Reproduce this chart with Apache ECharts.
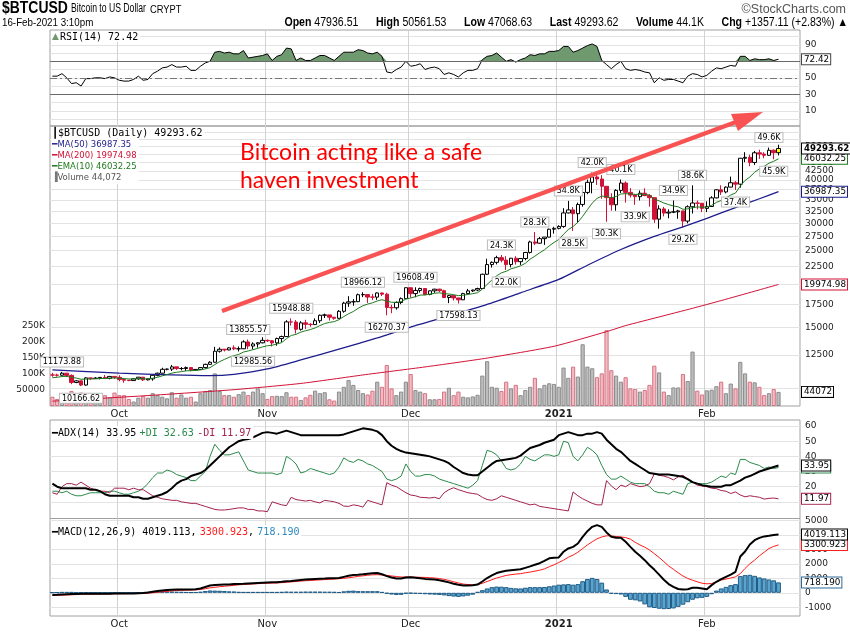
<!DOCTYPE html>
<html>
<head>
<meta charset="utf-8">
<title>$BTCUSD daily</title>
<script src="https://cdn.jsdelivr.net/npm/echarts@6/dist/echarts.min.js"></script>
<style>
  html, body { margin: 0; padding: 0; background: #fff; }
  #chart { width: 850px; height: 633px; }
</style>
</head>
<body>
<div id="chart"></div>
<script>
// ---- data (daily, 17-Sep-2020 .. 16-Feb-2021) ----
const firstDay = '2020-09-17';
const padDays = 4; // empty slots after the last bar

const opens = [10950,10940,10930,11080,10920,10420,10530,10240,10740,10690,10725,10775,10710,10845,
  10780,10620,10575,10550,10670,10790,10600,10670,10925,11080,11370,11385,11555,11425,11430,11500,11320,11360,11500,11750,11915,12820,12990,12930,13110,13030,13030,13640,13270,13455,13560,
  13780,13740,13550,13950,14130,15580,15565,14830,15480,15330,15300,15700,16280,16320,16070,15955,16715,17645,17800,17820,18660,18680,18370,18365,18880,18730,17150,17110,17720,18180,
  19550,18800,19200,19445,18700,19150,19360,19165,18320,18550,18265,18040,18800,19140,19250,19440,21380,22800,23140,23870,23480,22800,23780,23240,23730,24710,26490,26280,27080,27360,28840,
  29000,29370,32130,32780,31970,33990,36820,39370,40800,40250,38350,35570,33920,37320,39190,36830,36180,35790,36630,36070,35550,30830,33000,32100,32290,32370,32570,30430,33470,34320,34270,
  33110,33540,35510,37470,36930,38140,39270,38900,46200,46480,44920,47910,47500,47110,48720,47936.51];
const highs = [11100,11040,11174,11090,10990,10580,10540,10780,10760,10790,10800,10950,10860,10850,
  10930,10650,10600,10700,10800,10800,10690,10950,11120,11490,11430,11700,11560,11540,11580,11520,11390,11490,11800,12000,13200,13150,13020,13160,13330,13230,13790,13856,13600,13620,14060,
  13860,13800,14030,14220,15750,15949,15770,15650,15800,15450,15950,16350,16460,16320,16080,16850,17800,18480,18120,18800,18966,18690,18760,18950,18930,18900,17450,17850,18330,19580,
  19550,19608,19560,19500,19180,19410,19420,19290,18640,18560,18270,18900,19390,19300,19550,21450,23700,23280,24170,24300,24100,23820,24100,23780,24780,26720,28300,27390,27370,28940,29300,
  29600,33150,34800,33400,34400,36900,40100,42000,41400,41300,38350,36600,37600,40100,39600,37900,36400,37300,37850,36400,35550,33800,33450,32900,34900,32800,32580,33800,38600,34880,34300,
  34700,35900,37600,38600,38300,40900,39700,46300,48100,47300,48500,48900,48100,49600,49000,50561.53];
const lows = [10820,10830,10900,10800,10300,10370,10167,10200,10600,10660,10630,10690,10640,10670,
  10500,10400,10510,10530,10610,10520,10560,10540,10850,11070,11290,11240,11320,11290,11250,11220,11300,11340,11420,11700,11900,12700,12800,12900,12910,12800,13000,13000,12986,13130,13510,
  13630,13240,13300,13620,14100,15200,14420,14700,14850,15080,15280,15470,15990,15720,15800,15880,16560,17220,17350,17760,18370,17670,18010,18040,18500,16270,16500,16900,17520,18180,
  18300,18350,18930,18600,18590,18900,19000,18240,17650,17950,17598,18020,18760,19000,19100,19420,21280,22350,22820,23150,22000,22380,22800,22750,23460,24530,25950,26210,25990,27300,28000,
  28800,29100,32050,28500,30200,33500,36400,36600,38700,35300,30300,32600,32600,36700,34400,35600,33900,34900,35900,33500,30070,28950,31400,31000,32100,30900,29200,30000,32000,32900,32300,
  32300,33420,35400,36200,36600,38100,37400,38000,45000,43800,44200,46000,46200,47000,45900,47068.63];
const closes = [10940,10930,11080,10920,10420,10530,10240,10740,10690,10725,10775,10710,10845,10780,
  10620,10575,10550,10670,10790,10600,10670,10925,11080,11370,11385,11555,11425,11430,11500,11320,11360,11500,11750,11915,12820,12990,12930,13110,13030,13030,13640,13270,13455,13560,13780,
  13740,13550,13950,14130,15580,15565,14830,15480,15330,15300,15700,16280,16320,16070,15955,16715,17645,17800,17820,18660,18680,18370,18365,18880,18730,17150,17110,17720,18180,19550,
  18800,19200,19445,18700,19150,19360,19165,18320,18550,18265,18040,18800,19140,19250,19440,21380,22800,23140,23870,23480,22800,23780,23240,23730,24710,26490,26280,27080,27360,28840,29000,
  29370,32130,32780,31970,33990,36820,39370,40800,40250,38350,35570,33920,37320,39190,36830,36180,35790,36630,36070,35550,30830,33000,32100,32290,32370,32570,30430,33470,34320,34270,33110,
  33540,35510,37470,36930,38140,39270,38900,46200,46480,44920,47910,47500,47110,48720,47940,49293.62];
const volumes = [29000,22000,25000,40000,47000,30000,42000,25000,22000,24000,35000,34000,28000,42000,
  34000,34000,22000,14000,26000,31000,26000,40000,34000,29000,24000,43000,26000,36000,26000,29000,14000,40000,47000,50000,102000,47000,34000,34000,29000,37000,45000,34000,45000,55000,40000,
  22000,31000,32000,31000,43000,29000,29000,19000,27000,35000,48000,40000,43000,21000,17000,45000,60000,81000,66000,50000,40000,36000,48000,76000,60000,128000,55000,34000,45000,76000,
  100000,50000,45000,40000,21000,21000,22000,45000,57000,34000,45000,29000,27000,30000,35000,95000,140000,60000,57000,47000,76000,55000,66000,34000,50000,60000,88000,55000,66000,71000,69000,
  60000,120000,88000,123000,92000,193000,123000,118000,90000,102000,237000,112000,95000,76000,90000,55000,53000,45000,50000,66000,126000,105000,45000,34000,58000,58000,100000,78000,170000,48000,36000,
  49000,51000,62000,76000,40000,70000,55000,138000,102000,76000,74000,60000,34000,40000,53000,44072];

const ema10 = [10750,10783,10837,10852,10773,10729,10640,10658,10664,10675,10693,10696,10723,10733,
  10712,10687,10662,10663,10686,10670,10670,10716,10782,10889,10979,11084,11146,11198,11253,11265,11282,11322,11400,11494,11735,11963,12139,12316,12446,12552,12750,12845,12956,13066,13196,
  13295,13341,13452,13575,13940,14235,14343,14550,14692,14803,14966,15205,15408,15528,15606,15808,16142,16443,16693,17051,17347,17533,17684,17901,18052,17888,17747,17742,17822,18136,
  18257,18428,18613,18629,18724,18840,18899,18794,18750,18662,18549,18595,18694,18795,18912,19361,19986,20559,21161,21583,21804,22163,22359,22608,22990,23626,24109,24649,25142,25814,26393,
  26934,27879,28770,29352,30195,31399,32848,34294,35377,35918,35855,35503,35833,36443,36513,36452,36332,36386,36329,36187,35213,34811,34318,33949,33662,33463,32912,33013,33251,33436,33377,
  33407,33789,34458,34907,35495,36181,36675,38407,39875,40792,42086,43070,43804,44698,45287,46032.25];
// moving averages read at a few dates along the smooth curves
const ma50Points = [['2020-09-17',11320],['2020-10-01',11080],['2020-10-12',10950],['2020-10-20',10900],['2020-10-25',11000],
  ['2020-11-01',11400],['2020-11-08',12100],['2020-11-16',13000],['2020-11-24',14000],['2020-12-01',15050],['2020-12-09',16200],
  ['2020-12-17',17500],['2020-12-24',18900],['2021-01-01',20650],['2021-01-07',22700],['2021-01-14',25200],['2021-01-21',27500],
  ['2021-01-27',29300],['2021-02-01',31000],['2021-02-07',33300],['2021-02-12',35300],['2021-02-16',36987.35]];
const ma200Points = [['2020-09-17',9200],['2020-10-07',9550],['2020-10-25',9930],['2020-11-08',10350],['2020-11-21',10950],
  ['2020-12-04',11550],['2020-12-17',12250],['2020-12-31',13250],['2021-01-11',14600],['2021-01-15',15200],['2021-01-22',16100],
  ['2021-01-29',17050],['2021-02-04',17950],['2021-02-11',19100],['2021-02-16',19974.98]];

const rsi = [52,52,55,50,43,44,40,49,49,50,50,49,51,50,
  47,46,46,48,52,47,48,55,58,62,63,66,63,63,64,59,59,64,68,70,81,82,80,81,79,79,83,74,75,76,77,
  79,71,76,78,86,85,71,74,71,71,74,77,77,74,71,76,81,81,81,84,83,80,79,81,76,57,56,60,63,70,
  64,65,67,60,62,63,61,54,56,54,51,56,59,59,61,72,76,77,80,75,70,72,69,72,74,78,77,79,79,82,82,
  83,88,88,81,83,86,89,91,88,71,66,61,66,70,61,59,60,59,57,56,44,50,47,48,48,46,44,52,55,54,51,
  53,58,62,61,63,65,64,76,76,71,73,72,72,73,71,72.42];
const plusDI = [17,17,16,17,15,14,14,15,16,16,16,16,17,17,
  16,15,15,16,17,19,22,26,29,29,31,30,28,27,26,24,24,27,30,40,48,44,41,41,42,43,37,31,30,29,29,
  29,29,28,29,40,38,35,29,30,32,31,30,29,28,29,33,39,37,36,38,37,35,34,32,30,25,24,25,27,35,
  30,27,27,28,28,27,25,24,23,22,21,20,19,21,24,34,44,43,41,37,32,31,32,35,40,38,37,39,41,41,40,
  41,50,49,40,37,41,46,44,41,34,28,25,25,27,25,23,22,22,22,20,17,16,16,15,17,16,15,22,23,22,22,
  22,23,25,27,26,29,28,38,38,36,35,34,32,33,32,32.63];
const minusDI = [16,15,20,22,22,21,23,21,19,18,17,17,16,19,
  19,19,18,19,18,18,16,14,13,12,11.5,11,11,10,9.5,9,9,8,7,6,5,4.6,4.6,5,5.5,6,6,5,5,4,4,
  3.5,10,9,8,7.5,13,11.5,11,10.5,11,10,9.3,11,10.5,10,9,7.2,7,8,7.5,6.5,11,10,9,8,22.6,21,20,18,16,
  14.5,14,13,12.8,12.5,13,12,16,18,19.3,18,17,16,15.5,15,13,11.5,11,12,14,13,12,11,10,9,8,8.5,7,6.5,6,5.5,
  5,4.5,4,16.5,14,12,10.5,9,8,8,24,20.5,18,21,20,22,21,20,20.5,22,28.5,27.5,27,26,24.5,26.5,27.5,25,23,21,20.5,
  20,19,18.7,17.5,17,15.5,16.5,14.5,13.3,14,13.5,13,11.8,12.3,12.5,11.97];
const adx = [22,20,19,19,19,19,19,19,18,18,17,15,14,14,
  14,14,14,13,13,12,12,13,14,15,16.5,19,22,24,25,27,28,29,31,34,37,40,43,46,48,50,51,51.5,52.5,54,55.5,
  56,55.5,55,56,57,56,55,54,54,54,54,54,54,54,54,54,54.5,55.5,56.5,57.5,58.5,58,57.5,56.5,54,50,47,45,43.5,42.5,
  42,41.5,41,40.5,40,39,38,37,35.5,33,31,29,28,27.5,27.5,30,32.5,35,37,37.5,38,38.5,39,40.5,43,45.5,46.5,47.5,49,50,51,
  54,55,56,55,54,54,55,55,56,55,51,48,45,43,40,37,35,33,31,29,28.5,28,28,28,27.5,27,26.5,25,23,22,21,
  20.5,20,20,20,21,21,22.5,24,26,27,28.5,30,31,32,33,33.95];
const macd = [-160,-140,-110,-100,-90,-80,-70,-70,-70,-70,-70,-60,-60,-50,
  -50,-50,-40,-40,-30,-20,20,70,120,160,190,210,230,230,230,230,240,300,400,500,530,560,570,580,600,610,620,640,660,680,700,
  710,720,730,760,800,820,850,880,910,930,950,970,980,1000,1010,1020,1100,1180,1230,1250,1280,1320,1350,1360,1280,1150,1050,990,980,1060,
  1070,1040,1000,960,940,910,870,800,720,630,560,510,500,520,570,780,1020,1200,1360,1450,1520,1560,1590,1620,1720,1820,1930,2040,2200,2380,2420,
  2440,2830,3060,3170,3400,3860,4250,4550,4670,4550,4160,3860,3790,3790,3520,3170,2830,2550,2250,1900,1600,1250,900,600,410,260,230,240,345,345,300,
  250,530,760,940,1100,1260,1450,2500,2850,3330,3630,3790,3890,3930,3980,4019.113];
const macdSignal = [-180,-170,-160,-150,-140,-120,-110,-100,-95,-90,-85,-80,-75,-70,
  -65,-60,-55,-50,-50,-50,-30,0,40,70,100,130,160,170,185,195,200,230,280,340,380,420,450,480,510,550,570,590,610,630,650,
  660,670,680,700,720,750,780,810,830,850,870,890,910,930,950,975,1000,1040,1080,1135,1170,1210,1240,1250,1230,1200,1160,1120,1090,1090,
  1090,1080,1070,1060,1040,1020,980,930,850,760,680,600,570,560,570,650,780,900,1020,1110,1200,1250,1290,1320,1380,1430,1490,1560,1650,1800,1930,
  2090,2250,2450,2600,2800,3050,3300,3520,3720,3850,3930,3930,3880,3850,3810,3700,3480,3300,3150,2950,2700,2440,2150,1850,1620,1380,1160,990,870,760,660,
  620,640,760,880,950,1020,1100,1320,1680,2000,2250,2550,2800,3050,3200,3300.923];
const macdHist = [20,30,50,50,50,40,40,30,25,20,15,20,15,20,
  15,10,15,10,20,30,50,70,80,90,90,80,70,60,45,35,40,70,120,160,150,140,120,100,90,60,50,50,50,50,50,
  50,50,50,60,80,70,70,70,80,80,80,80,70,70,60,45,100,140,150,115,110,110,110,110,50,-60,-120,-150,-140,-60,
  -50,-70,-80,-100,-120,-130,-150,-180,-230,-260,-280,-250,-200,-130,60,180,300,390,430,420,390,340,310,300,350,390,390,390,400,450,500,
  560,580,600,560,600,800,950,1030,950,700,230,-70,-90,-120,-280,-480,-520,-600,-800,-1000,-1050,-1100,-1130,-1120,-1080,-970,-820,-650,-480,-380,-350,
  -280,-100,150,300,410,530,600,1150,1220,1240,1170,1060,990,920,860,718.19];

// swing labels: date, price, text, side
const swings = [
  ['2020-09-19', 11173.88, '11173.88', 'high'], ['2020-09-23', 10166.62, '10166.62', 'low'],
  ['2020-10-28', 13855.57, '13855.57', 'high'], ['2020-10-29', 12985.56, '12985.56', 'low'],
  ['2020-11-06', 15948.88, '15948.88', 'high'], ['2020-11-21', 18966.12, '18966.12', 'high'],
  ['2020-11-26', 16270.37, '16270.37', 'low'], ['2020-12-02', 19608.49, '19608.49', 'high'],
  ['2020-12-11', 17598.13, '17598.13', 'low'], ['2020-12-20', 24300, '24.3K', 'high'],
  ['2020-12-21', 22000, '22.0K', 'low'], ['2020-12-27', 28300, '28.3K', 'high'],
  ['2021-01-03', 34800, '34.8K', 'high'], ['2021-01-04', 28500, '28.5K', 'low'],
  ['2021-01-08', 42000, '42.0K', 'high'], ['2021-01-11', 30300, '30.3K', 'low'],
  ['2021-01-14', 40100, '40.1K', 'high'], ['2021-01-17', 33900, '33.9K', 'low'],
  ['2021-01-25', 34900, '34.9K', 'high'], ['2021-01-27', 29200, '29.2K', 'low'],
  ['2021-01-29', 38600, '38.6K', 'high'], ['2021-02-07', 37400, '37.4K', 'low'],
  ['2021-02-14', 49600, '49.6K', 'high'], ['2021-02-15', 45900, '45.9K', 'low']
];

// axis ticks
const rsiTicks = [0, 10, 20, 30, 40, 50, 60, 70, 80, 90, 100];
const rsiLabels = [10, 30, 50, 70, 90];
const priceTicks = [10000,12500,15000,17500,20000,22500,25000,27500,30000,32500,35000,37500,40000,42500,45000,47500,50000,52500,55000];
const priceLabels = [12500,15000,17500,20000,22500,25000,27500,30000,32500,35000,37500,40000,42500,45000,47500,50000,52500];
const volumeLabels = [50000, 100000, 150000, 200000, 250000];
const adxTicks = [10, 20, 30, 40, 50, 60];
const macdTicks = [-1000, 0, 1000, 2000, 3000, 4000, 5000];

// ---- build ----
const SANS = '"DejaVu Sans", Verdana, sans-serif';
const MONO = '"DejaVu Sans Mono", monospace';
const HEAD = '"Liberation Sans", Arial, sans-serif';

const categories = [];
const day0 = new Date(firstDay + 'T00:00:00Z').getTime();
for (let i = 0; i < closes.length + padDays; i++) {
  categories.push(new Date(day0 + i * 86400000).toISOString().slice(0, 10));
}
const isMonthStart = (i, v) => typeof v === 'string' && v.slice(8) === '01';
const monthNames = ['Jan','Feb','Mar','Apr','May','Jun','Jul','Aug','Sep','Oct','Nov','Dec'];
const monthLabel = v => {
  const m = +v.slice(5, 7);
  return m === 1 ? '{y|' + v.slice(0, 4) + '}' : monthNames[m - 1];
};

const candles = opens.map((o, i) => {
  const item = { value: [o, closes[i], lows[i], highs[i]] };
  if (i === opens.length - 1) {
    item.itemStyle = { color: '#ffff00', color0: '#ffff00', borderColor: '#000', borderColor0: '#000' };
  }
  return item;
});
const volumeBars = volumes.map((v, i) => {
  const down = closes[i] < (i ? closes[i - 1] : opens[i]);
  return { value: v, itemStyle: down
    ? { color: '#f0bcc3', borderColor: '#d77383' }
    : { color: '#bdbdbd', borderColor: '#8c8c8c' } };
});
// RSI fill above 70 (stacked on a flat 70 base)
const rsiBase = rsi.map(() => 70);
const rsiOver = rsi.map(v => Math.max(v - 70, 0));

function xAxisFor(gridIndex, showLabels) {
  return {
    type: 'category', gridIndex, data: categories, boundaryGap: true,
    axisLine: { show: false }, axisTick: { show: false },
    axisLabel: {
      show: showLabels, interval: isMonthStart, formatter: monthLabel, margin: 3,
      fontFamily: SANS, fontSize: 10, color: '#222',
      rich: { y: { fontFamily: SANS, fontSize: 10, fontWeight: 'bold', color: '#222' } }
    },
    splitLine: { show: true, interval: isMonthStart, lineStyle: { color: '#d2d2d2', width: 1 } }
  };
}
function yAxisFor(gridIndex, opts) {
  return Object.assign({
    gridIndex, position: 'right', scale: false,
    axisLine: { show: false },
    axisTick: { show: false, customValues: opts.ticks },
    axisLabel: { customValues: opts.labels, margin: 5, fontFamily: SANS, fontSize: 9, color: '#222',
      formatter: opts.formatter || (v => String(v)) },
    splitLine: { show: true, lineStyle: { color: '#e3e3e3', width: 1 } }
  }, opts.extra);
}
function tag(value, text, border, bold) {
  return {
    yAxis: value,
    lineStyle: { color: 'rgba(255,255,255,0)', width: 1, type: 'solid' },
    label: {
      show: true, position: 'end', distance: 2, formatter: text,
      fontFamily: SANS, fontSize: bold ? 8.6 : 8.8, fontWeight: bold ? 'bold' : 'normal', color: '#000',
      backgroundColor: '#fff', borderColor: border, borderWidth: 1, padding: [1, 1, 0, 2]
    }
  };
}
const markLineBase = { symbol: ['none', 'none'], silent: true, animation: false, emphasis: { disabled: true } };

const gridBase = { left: 50, right: 50, show: true, borderColor: '#a0a0a0', borderWidth: 1, outerBoundsMode: 'none', containLabel: false };

const option = {
  animation: false,
  backgroundColor: '#fff',
  grid: [
    Object.assign({ top: 30, height: 96 }, gridBase),
    Object.assign({ top: 126, height: 280 }, gridBase),
    Object.assign({ top: 420, height: 98.5 }, gridBase),
    Object.assign({ top: 518.5, height: 97.5 }, gridBase)
  ],
  xAxis: [xAxisFor(0, false), xAxisFor(1, true), xAxisFor(2, false), xAxisFor(3, true)],
  yAxis: [
    yAxisFor(0, { ticks: rsiTicks, labels: rsiLabels, extra: { min: -8.4, max: 107.9 } }),
    yAxisFor(1, { ticks: priceTicks, labels: priceLabels, extra: { type: 'log', min: 8910, max: 57240 } }),
    yAxisFor(1, { ticks: volumeLabels, labels: volumeLabels,
      formatter: v => (v >= 100000 ? v / 1000 + 'K' : String(v)),
      extra: { position: 'left', min: 0, max: 875000, splitLine: { show: false } } }),
    yAxisFor(2, { ticks: adxTicks, labels: adxTicks, extra: { min: -1, max: 64 } }),
    yAxisFor(3, { ticks: macdTicks, labels: macdTicks, extra: { min: -1600, max: 5124 } })
  ],
  series: [
    // ---- RSI ----
    { type: 'line', xAxisIndex: 0, yAxisIndex: 0, stack: 'rsiFill', data: rsiBase, symbol: 'none',
      lineStyle: { width: 0, opacity: 0 }, silent: true },
    { type: 'line', xAxisIndex: 0, yAxisIndex: 0, stack: 'rsiFill', data: rsiOver, symbol: 'none',
      lineStyle: { width: 0, opacity: 0 }, areaStyle: { color: '#6f9a6f', opacity: 1 }, silent: true },
    { type: 'line', xAxisIndex: 0, yAxisIndex: 0, data: rsi, symbol: 'none',
      lineStyle: { color: '#000', width: 1 },
      markLine: Object.assign({}, markLineBase, { data: [
        { yAxis: 70, lineStyle: { color: '#6a6a6a', width: 1, type: 'solid' }, label: { show: false } },
        { yAxis: 30, lineStyle: { color: '#6a6a6a', width: 1, type: 'solid' }, label: { show: false } },
        { yAxis: 50, lineStyle: { color: '#777', width: 1, type: [7, 3, 2, 3] }, label: { show: false } },
        tag(72.42, '72.42', '#444', false)
      ] }) },
    // ---- price panel ----
    { type: 'bar', xAxisIndex: 1, yAxisIndex: 2, data: volumeBars, barCategoryGap: '12%',
      itemStyle: { borderWidth: 1 },
      markLine: Object.assign({}, markLineBase, { data: [tag(44072, '44072', '#000', false)] }) },
    { type: 'line', xAxisIndex: 1, yAxisIndex: 1, data: ma200Points, symbol: 'none', smooth: 0.2,
      lineStyle: { color: '#d21034', width: 1 },
      markLine: Object.assign({}, markLineBase, { data: [tag(19974.98, '19974.98', '#d21034', false)] }) },
    { type: 'line', xAxisIndex: 1, yAxisIndex: 1, data: ma50Points, symbol: 'none', smooth: 0.2,
      lineStyle: { color: '#1c1c8c', width: 1.3 },
      markLine: Object.assign({}, markLineBase, { data: [tag(36987.35, '36987.35', '#1c1c8c', false)] }) },
    { type: 'line', xAxisIndex: 1, yAxisIndex: 1, data: ema10, symbol: 'none',
      lineStyle: { color: '#1e7a1e', width: 1 },
      markLine: Object.assign({}, markLineBase, { data: [tag(46032.25, '46032.25', '#1e7a1e', false)] }) },
    { type: 'candlestick', xAxisIndex: 1, yAxisIndex: 1, data: candles, barWidth: 4,
      itemStyle: { color: '#fff', color0: '#d01237', borderColor: '#000', borderColor0: '#d01237', borderWidth: 1 },
      markPoint: {
        symbol: 'rect', symbolSize: 1, itemStyle: { color: 'rgba(0,0,0,0)' }, silent: true, animation: false,
        label: { show: true, fontFamily: SANS, fontSize: 8, color: '#000', backgroundColor: '#fff',
          borderColor: '#bdbdbd', borderWidth: 1, padding: [1, 2, 0, 2] },
        data: swings.map(s => ({
          coord: [s[0], s[1]],
          label: { formatter: s[2], position: s[3] === 'high' ? 'top' : 'bottom', distance: s[3] === 'high' ? 5 : 7 }
        }))
      },
      markLine: Object.assign({}, markLineBase, { data: [tag(49293.62, '49293.62', '#000', true)] }) },
    // ---- ADX ----
    { type: 'line', xAxisIndex: 2, yAxisIndex: 3, data: plusDI, symbol: 'none',
      lineStyle: { color: '#2a8a4a', width: 1 },
      markLine: Object.assign({}, markLineBase, { data: [tag(32.63, '32.63', '#2a8a4a', false)] }) },
    { type: 'line', xAxisIndex: 2, yAxisIndex: 3, data: minusDI, symbol: 'none',
      lineStyle: { color: '#a3204c', width: 1 },
      markLine: Object.assign({}, markLineBase, { data: [tag(11.97, '11.97', '#a3204c', false)] }) },
    { type: 'line', xAxisIndex: 2, yAxisIndex: 3, data: adx, symbol: 'none',
      lineStyle: { color: '#000', width: 2 },
      markLine: Object.assign({}, markLineBase, { data: [tag(33.95, '33.95', '#000', false)] }) },
    // ---- MACD ----
    { type: 'bar', xAxisIndex: 3, yAxisIndex: 4, data: macdHist, barCategoryGap: '0%',
      itemStyle: { color: '#5aa5d0', borderColor: '#1f5c86', borderWidth: 1 },
      markLine: Object.assign({}, markLineBase, { data: [tag(718.19, '718.190', '#2c6a9a', false)] }) },
    { type: 'line', xAxisIndex: 3, yAxisIndex: 4, data: macdSignal, symbol: 'none',
      lineStyle: { color: '#ff1a1a', width: 1 },
      markLine: Object.assign({}, markLineBase, { data: [tag(3300.923, '3300.923', '#ff1a1a', false)] }) },
    { type: 'line', xAxisIndex: 3, yAxisIndex: 4, data: macd, symbol: 'none',
      lineStyle: { color: '#000', width: 2 },
      markLine: Object.assign({}, markLineBase, { data: [tag(4019.113, '4019.113', '#000', false)] }) }
  ],
  graphic: [
    // header (condensed with scaleX to imitate the narrow face)
    { type: 'text', x: 2, y: 0, scaleX: 0.82, z: 100, style: { text: '$BTCUSD', fontFamily: HEAD, fontSize: 17, fontWeight: 'bold', fill: '#000' } },
    { type: 'text', x: 71, y: 3, scaleX: 0.72, z: 100, style: { text: 'Bitcoin to US Dollar', fontFamily: HEAD, fontSize: 12, fill: '#000' } },
    { type: 'text', x: 150, y: 4, scaleX: 0.85, z: 100, style: { text: 'CRYPT', fontFamily: HEAD, fontSize: 11, fill: '#000' } },
    { type: 'text', x: 846, y: 3, z: 100, style: { text: '\u00a9StockCharts.com', align: 'right', fontFamily: HEAD, fontSize: 12.5, fill: '#555' } },
    { type: 'text', x: 2, y: 17, scaleX: 0.85, z: 100, style: { text: '16-Feb-2021 3:10pm', fontFamily: HEAD, fontSize: 11.5, fill: '#000' } },
    { type: 'text', x: 848, y: 17, scaleX: 0.88, z: 100, style: {
      text: '{b|Open} 47936.51      {b|High} 50561.53      {b|Low} 47068.63      {b|Last} 49293.62      {b|Volume} 44.1K      {b|Chg} +1357.11 (+2.83%) \u25b2',
      align: 'right', fontFamily: HEAD, fontSize: 12, fill: '#000',
      rich: { b: { fontFamily: HEAD, fontSize: 12, fontWeight: 'bold', fill: '#000' } } } },
    // panel legends
    { type: 'text', left: 51, top: 31, z: 100, style: {
      text: '{i|\u25b2}{t|RSI(14) 72.42}', backgroundColor: '#fff', padding: [1, 2, 0, 1],
      rich: { i: { fill: '#6f9a6f', fontSize: 9, fontFamily: SANS, padding: [0, 1, 0, 0] }, t: { fill: '#000', fontSize: 10, fontFamily: MONO } } } },
    { type: 'text', left: 51, top: 127, z: 100, style: {
      text: '{i|\u2503}{t|$BTCUSD (Daily) 49293.62}', backgroundColor: '#fff', padding: [1, 2, 0, 1],
      rich: { i: { fill: '#000', fontSize: 10, fontFamily: MONO }, t: { fill: '#000', fontSize: 10, fontFamily: MONO } } } },
    { type: 'text', left: 51, top: 139, z: 100, style: {
      text: '{i|\u2501}{t|MA(50) 36987.35}\n{j|\u2501}{u|MA(200) 19974.98}\n{k|\u2501}{v|EMA(10) 46032.25}\n{l|\u2590}{w|Volume 44,072}',
      backgroundColor: '#fff', padding: [0, 2, 1, 1], lineHeight: 11,
      rich: {
        i: { fill: '#1c1c8c', fontSize: 9, fontFamily: MONO, lineHeight: 11 }, t: { fill: '#1c1c8c', fontSize: 8.5, fontFamily: SANS, lineHeight: 11 },
        j: { fill: '#d21034', fontSize: 9, fontFamily: MONO, lineHeight: 11 }, u: { fill: '#d21034', fontSize: 8.5, fontFamily: SANS, lineHeight: 11 },
        k: { fill: '#1e7a1e', fontSize: 9, fontFamily: MONO, lineHeight: 11 }, v: { fill: '#1e7a1e', fontSize: 8.5, fontFamily: SANS, lineHeight: 11 },
        l: { fill: '#777', fontSize: 9, fontFamily: MONO, lineHeight: 11 }, w: { fill: '#555', fontSize: 8.5, fontFamily: SANS, lineHeight: 11 }
      } } },
    { type: 'text', left: 51, top: 426, z: 100, style: {
      text: '{k|\u2501}{k|ADX(14) 33.95} {g|+DI 32.63} {r|-DI 11.97}', backgroundColor: '#fff', padding: [1, 2, 0, 1],
      rich: { k: { fill: '#000', fontSize: 10, fontFamily: MONO }, g: { fill: '#2a8a4a', fontSize: 10, fontFamily: MONO }, r: { fill: '#a3204c', fontSize: 10, fontFamily: MONO } } } },
    { type: 'text', left: 51, top: 525, z: 100, style: {
      text: '{k|\u2501}{k|MACD(12,26,9) 4019.113}{k|,} {r|3300.923}{k|,} {b|718.190}', backgroundColor: '#fff', padding: [1, 2, 0, 1],
      rich: { k: { fill: '#000', fontSize: 10, fontFamily: MONO }, r: { fill: '#ff1a1a', fontSize: 10, fontFamily: MONO }, b: { fill: '#2c8ac0', fontSize: 10, fontFamily: MONO } } } },
    // hand-drawn annotation
    { type: 'text', left: 240, top: 141, z: 100, style: { text: 'Bitcoin acting like a safe', fontFamily: 'Lato, "Open Sans", sans-serif', fontSize: 23, fill: '#ff0000' } },
    { type: 'text', left: 240, top: 169, z: 100, style: { text: 'haven investment', fontFamily: 'Lato, "Open Sans", sans-serif', fontSize: 23, fill: '#ff0000' } },
    { type: 'polyline', z: 100, shape: { points: [[222, 311], [736, 122]] }, style: { stroke: '#f85252', lineWidth: 4.5, lineCap: 'butt' } },
    { type: 'polygon', z: 100, shape: { points: [[763, 112], [738, 131], [731, 114]] }, style: { fill: '#f85252' } }
  ]
};

const chart = echarts.init(document.getElementById('chart'), null, { renderer: 'canvas' });
chart.setOption(option);
</script>
</body>
</html>
